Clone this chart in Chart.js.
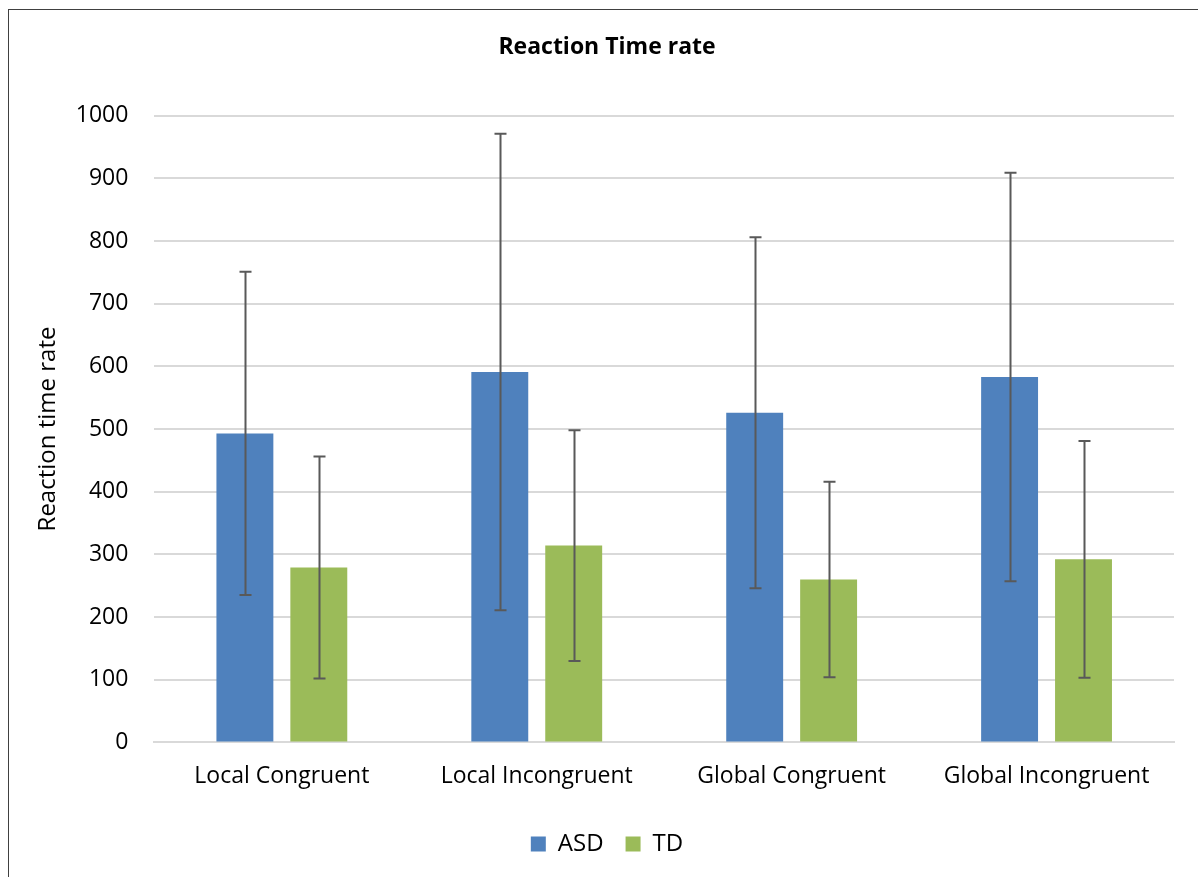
<!DOCTYPE html>
<html lang="en">
<head>
    <meta charset="UTF-8">
    <title>Reaction Time rate</title>
    <script src="https://cdn.jsdelivr.net/npm/chart.js"></script>
    <style>
        html, body { margin: 0; padding: 0; background: #fff; overflow: hidden; }
        .frame {
            position: absolute; left: 8px; top: 9px;
            width: 1400px; height: 1000px;
            border: 1px solid #404040;
        }
        #grafica { position: absolute; left: 0; top: 0; }
    </style>
</head>
<body>
    <div class="frame"></div>
    <canvas id="grafica" width="1198" height="877"></canvas>
    <script>
        // datos
        const categorias = ['Local Congruent', 'Local Incongruent', 'Global Congruent', 'Global Incongruent'];
        const asd = [493, 591, 526, 583];
        const asdError = [258, 380, 280, 326];
        const td = [279, 314, 260, 292];
        const tdError = [177, 184, 156, 189];
        const ticksY = [0, 100, 200, 300, 400, 500, 600, 700, 800, 900, 1000];

        const fuente = "'Open Sans', 'Liberation Sans', sans-serif";

        // barras de error (media +/- desviacion)
        const barrasError = {
            id: 'barrasError',
            afterDatasetsDraw(chart) {
                const ctx = chart.ctx;
                const y = chart.scales.y;
                ctx.save();
                ctx.strokeStyle = '#595959';
                ctx.lineWidth = 2;
                chart.data.datasets.forEach((ds, i) => {
                    const meta = chart.getDatasetMeta(i);
                    meta.data.forEach((bar, j) => {
                        const v = ds.data[j];
                        const e = ds.errores[j];
                        const yTop = y.getPixelForValue(v + e);
                        const yBot = y.getPixelForValue(v - e);
                        const x = Math.round(bar.x) + 0.5;
                        ctx.beginPath();
                        ctx.moveTo(x, yTop);
                        ctx.lineTo(x, yBot);
                        ctx.moveTo(x - 6, yTop);
                        ctx.lineTo(x + 6, yTop);
                        ctx.moveTo(x - 6, yBot);
                        ctx.lineTo(x + 6, yBot);
                        ctx.stroke();
                    });
                });
                ctx.restore();
            }
        };

        const ctx = document.getElementById('grafica').getContext('2d');
        new Chart(ctx, {
            type: 'bar',
            data: {
                labels: categorias,
                datasets: [{
                    label: 'ASD',
                    data: asd,
                    errores: asdError,
                    backgroundColor: '#4f81bd',
                    borderWidth: 0,
                    barPercentage: 0.77,
                    categoryPercentage: 0.58
                }, {
                    label: 'TD',
                    data: td,
                    errores: tdError,
                    backgroundColor: '#9bbb59',
                    borderWidth: 0,
                    barPercentage: 0.77,
                    categoryPercentage: 0.58
                }]
            },
            plugins: [barrasError],
            options: {
                responsive: false,
                animation: false,
                layout: { padding: { left: 40, right: 24, top: 34, bottom: 11 } },
                plugins: {
                    title: {
                        display: true,
                        text: 'Reaction Time rate',
                        color: '#000',
                        font: { family: fuente, size: 23, weight: 'bold' },
                        padding: { top: 0, bottom: 54 }
                    },
                    legend: {
                        position: 'bottom',
                        labels: {
                            color: '#000',
                            boxWidth: 15,
                            boxHeight: 15,
                            padding: 22,
                            font: { family: fuente, size: 24 }
                        }
                    },
                    tooltip: { enabled: false }
                },
                scales: {
                    x: {
                        grid: { display: false, drawTicks: false },
                        border: { display: true, color: '#d9d9d9', width: 2 },
                        ticks: { color: '#000', padding: 20, font: { family: fuente, size: 23 } }
                    },
                    y: {
                        min: 0,
                        max: 1000,
                        afterBuildTicks: (axis) => { axis.ticks = ticksY.map(v => ({ value: v })); },
                        grid: { color: '#d9d9d9', lineWidth: 2, drawTicks: false },
                        border: { display: false },
                        ticks: {
                            color: '#000', padding: 26,
                            font: { family: fuente, size: 23 },
                            callback: (v) => String(v)
                        },
                        title: {
                            display: true,
                            text: 'Reaction time rate',
                            color: '#000',
                            font: { family: fuente, size: 24 },
                            padding: { top: -6, bottom: -13 }
                        }
                    }
                }
            }
        });
    </script>
</body>
</html>
